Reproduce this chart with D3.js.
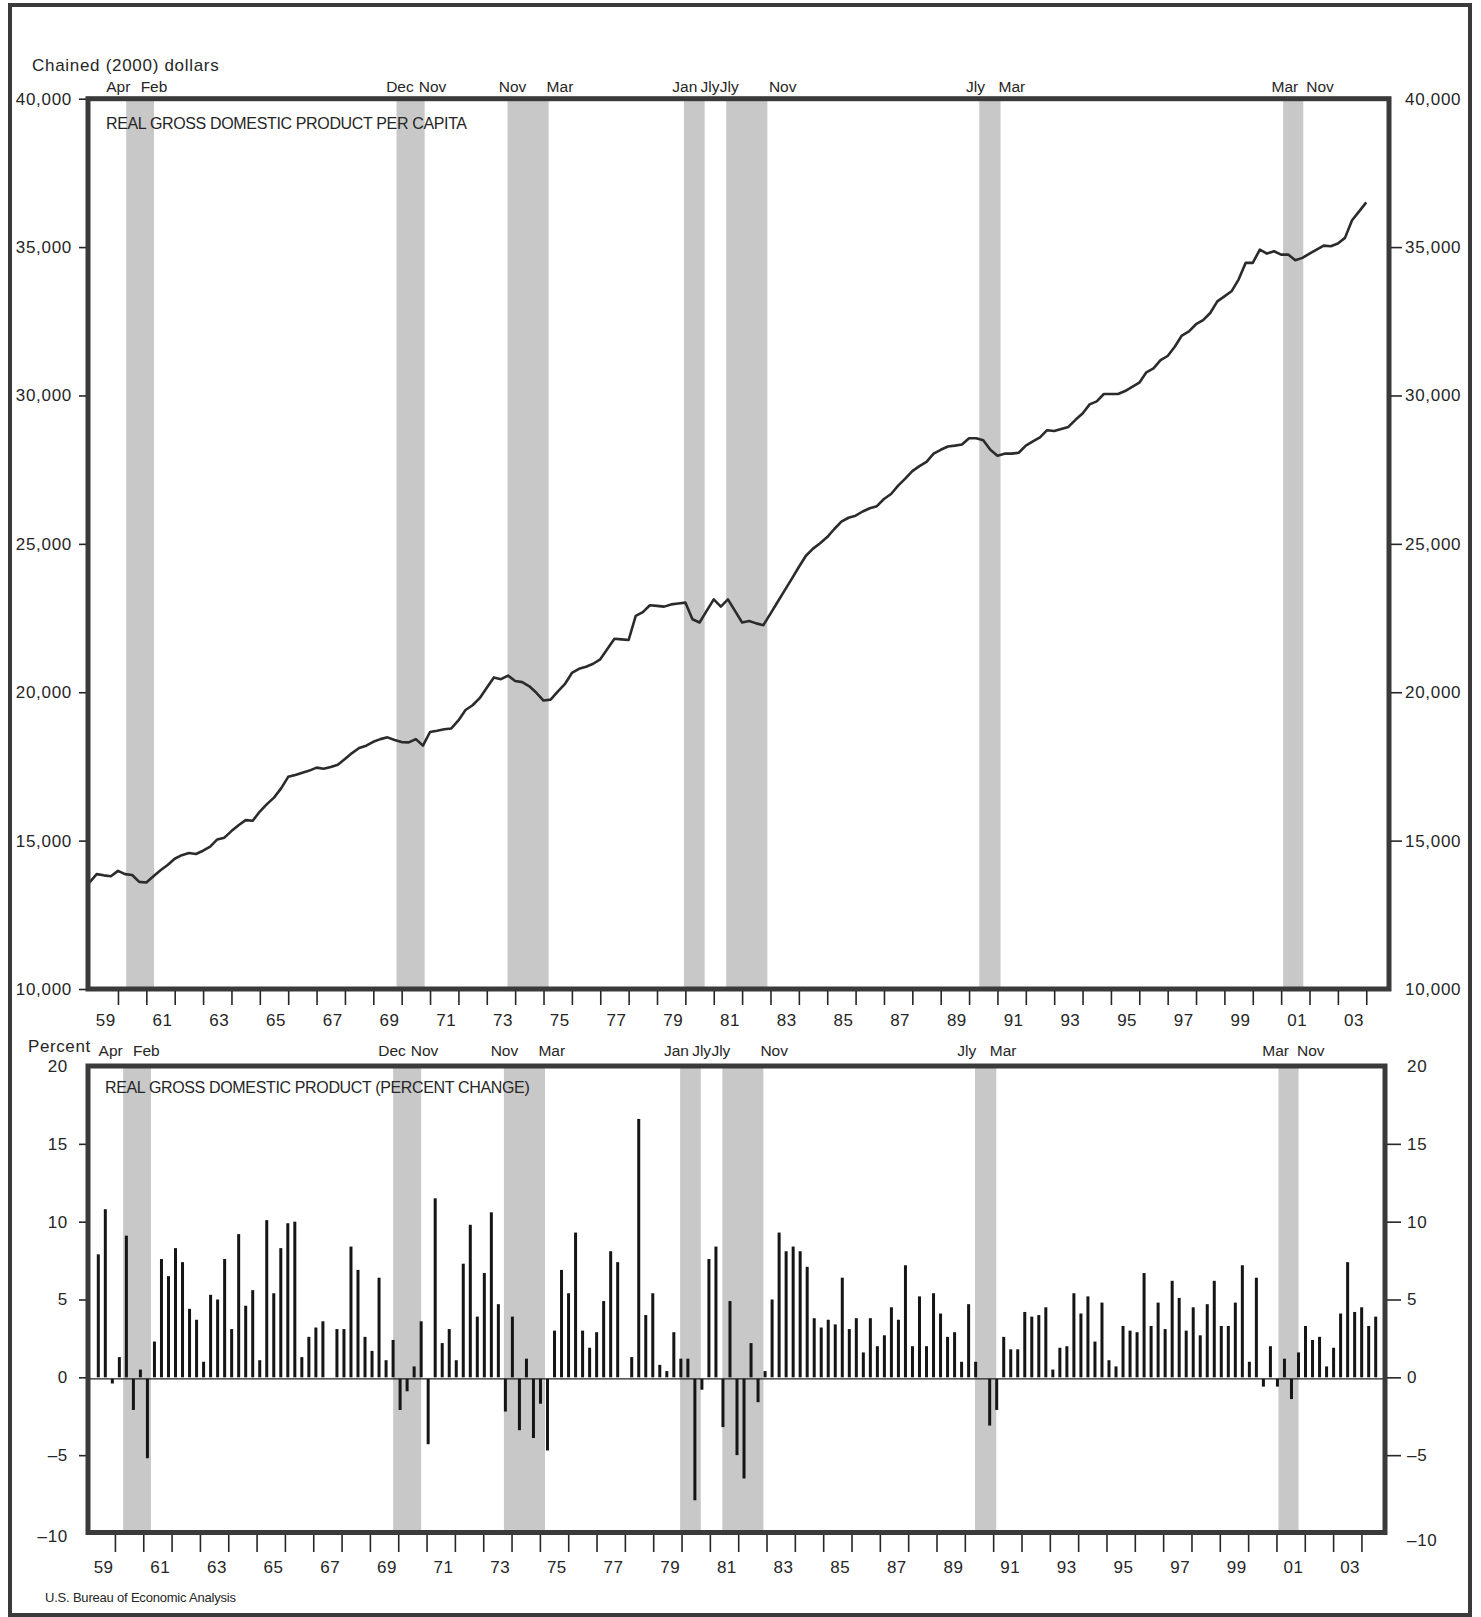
<!DOCTYPE html>
<html><head><meta charset="utf-8">
<script src="https://cdn.jsdelivr.net/npm/d3@7"></script>
<style>
html,body{margin:0;padding:0;background:#fff;}
svg{display:block;}
</style></head><body><svg id="chart" width="1481" height="1617"></svg>
<script>
// ---------- DATA ----------
const firstYear = 1959;
// Real GDP per capita, chained (2000) dollars, quarterly 1959Q1 .. 2004Q1
const perCapita = [
 13590,13870,13830,13800, 13980,13870,13840,13610, 13590,13800,14000,14180,
 14390,14510,14580,14550, 14660,14800,15040,15100, 15320,15520,15690,15670,
 15980,16230,16450,16760, 17150,17210,17290,17360, 17460,17420,17480,17560,
 17750,17950,18120,18200, 18330,18420,18480,18390, 18320,18310,18420,18200,
 18660,18700,18750,18780, 19050,19400,19560,19800, 20150,20500,20440,20560,
 20380,20340,20200,19980, 19720,19750,20020,20270, 20650,20790,20860,20960,
 21110,21460,21800,21780, 21760,22570,22700,22930, 22910,22885,22960,22990,
 23020,22460,22350,22740, 23130,22885,23130,22740, 22350,22400,22320,22260,
 22650,23040,23430,23820, 24220,24600,24840,25020, 25230,25500,25750,25880,
 25950,26090,26200,26270, 26510,26680,26960,27200, 27450,27620,27760,28040,
 28170,28280,28310,28350, 28560,28560,28490,28170, 27970,28040,28040,28070,
 28310,28450,28590,28830, 28800,28870,28940,29180, 29390,29700,29800,30050,
 30050,30050,30150,30290, 30430,30780,30910,31190, 31330,31640,32020,32160,
 32400,32540,32780,33170, 33340,33510,33906,34468, 34468,34916,34781,34859,
 34747,34747,34556,34636, 34781,34916,35050,35027, 35118,35310,35902,36205,
 36508
];
// Real GDP, percent change (annual rate), quarterly 1959Q1 .. 2004Q3
const pctChange = [
 7.9,10.8,-0.3,1.3, 9.1,-2.0,0.5,-5.1, 2.3,7.6,6.5,8.3, 7.4,4.4,3.7,1.0,
 5.3,5.0,7.6,3.1, 9.2,4.6,5.6,1.1, 10.1,5.4,8.3,9.9, 10.0,1.3,2.6,3.2,
 3.6,0.0,3.1,3.1, 8.4,6.9,2.6,1.7, 6.4,1.1,2.4,-2.0, -0.8,0.7,3.6,-4.2,
 11.5,2.2,3.1,1.1, 7.3,9.8,3.9,6.7, 10.6,4.7,-2.1,3.9, -3.3,1.2,-3.8,-1.6,
 -4.6,3.0,6.9,5.4, 9.3,3.0,1.9,2.9, 4.9,8.1,7.4,0.0, 1.3,16.6,4.0,5.4,
 0.8,0.4,2.9,1.2, 1.2,-7.8,-0.7,7.6, 8.4,-3.1,4.9,-4.9, -6.4,2.2,-1.5,0.4,
 5.0,9.3,8.1,8.4, 8.1,7.1,3.8,3.2, 3.7,3.4,6.4,3.1, 3.8,1.6,3.8,2.0,
 2.7,4.5,3.7,7.2, 2.0,5.2,2.0,5.4, 4.1,2.6,2.9,1.0, 4.7,1.0,0.0,-3.0,
 -2.0,2.6,1.8,1.8, 4.2,3.9,4.0,4.5, 0.5,1.9,2.0,5.4, 4.1,5.2,2.3,4.8,
 1.1,0.7,3.3,3.0, 2.9,6.7,3.3,4.8, 3.1,6.2,5.1,3.0, 4.5,2.7,4.7,6.2,
 3.3,3.3,4.8,7.2, 1.0,6.4,-0.5,2.0, -0.5,1.2,-1.3,1.6, 3.3,2.4,2.6,0.7,
 1.9,4.1,7.4,4.2, 4.5,3.3,3.9
];
const topTicks = [10000,15000,20000,25000,30000,35000,40000];
const bottomTicks = [-10,-5,0,5,10,15,20];
const yearLabels = ["59","61","63","65","67","69","71","73","75","77","79","81","83","85","87","89","91","93","95","97","99","01","03"];
const yearLabelYears = [1959,1961,1963,1965,1967,1969,1971,1973,1975,1977,1979,1981,1983,1985,1987,1989,1991,1993,1995,1997,1999,2001,2003];
// Recession shading (decimal years, as drawn)
const recessionStart = [1960.29,1969.82,1973.73,1979.95,1981.44,1990.36,2001.07];
const recessionEnd   = [1961.27,1970.81,1975.18,1980.68,1982.89,1991.11,2001.78];
const recessionLabels = ["Apr","Feb","Dec","Nov","Nov","Mar","Jan","Jly","Jly","Nov","Jly","Mar","Mar","Nov"];
const recessionLabelYears = [1960.01,1961.27,1969.94,1971.09,1973.91,1975.58,1979.98,1980.87,1981.55,1983.43,1990.23,1991.51,2001.13,2002.37];

// ---------- DRAW ----------
const FONT = '"Liberation Sans", Arial, Helvetica, sans-serif';
const INK = "#262626";
const FRAME = "#3a3a3a";
const BAND = "#c8c8c8";
const svg = d3.select("#chart");
svg.append("rect").attr("width",1481).attr("height",1617).attr("fill","#fff");

// outer border
svg.append("rect").attr("x",10).attr("y",5).attr("width",1460).attr("height",1610)
  .attr("fill","none").attr("stroke",FRAME).attr("stroke-width",4);

function txt(x,y,s,size,anchor,extra){
  const t = svg.append("text").attr("x",x).attr("y",y).attr("dy","0.35em")
    .attr("font-family",FONT).attr("font-size",size).attr("fill",INK)
    .attr("text-anchor",anchor||"start").text(s);
  if(extra) extra(t);
  return t;
}
function styleAxis(g,size,spacing){
  g.select(".domain").remove();
  g.selectAll(".tick line").attr("stroke",INK).attr("stroke-width",1.6);
  g.selectAll(".tick text").attr("font-family",FONT).attr("font-size",size)
    .attr("fill",INK).attr("letter-spacing",spacing||0);
  g.attr("font-family",FONT);
}

// ===== TOP PANEL =====
const T = {l:88, r:1389, t:98.7, b:989};
const xTop = d3.scaleLinear().domain([1959,2004]).range([89.6, 89.6+45*28.37]);
const yTop = d3.scaleLinear().domain([10000,40000]).range([T.b, T.t]);

svg.append("g").selectAll("rect").data(recessionStart).join("rect")
  .attr("x",(d)=>xTop(d)).attr("width",(d,i)=>xTop(recessionEnd[i])-xTop(d))
  .attr("y",T.t).attr("height",T.b-T.t).attr("fill",BAND);

const line = d3.line().x((d,i)=>xTop(firstYear + i/4)).y(d=>yTop(d));
svg.append("path").datum(perCapita).attr("d",line).attr("fill","none")
  .attr("stroke","#2b2b2b").attr("stroke-width",2.6).attr("stroke-linejoin","round");

svg.append("rect").attr("x",T.l).attr("y",T.t).attr("width",T.r-T.l).attr("height",T.b-T.t)
  .attr("fill","none").attr("stroke",FRAME).attr("stroke-width",5);

// axes
const gTL = svg.append("g").attr("transform","translate(86,0)")
  .call(d3.axisLeft(yTop).tickValues(topTicks).tickSize(7).tickPadding(7).tickFormat(d3.format(",")));
styleAxis(gTL,17,0.7);
const gTR = svg.append("g").attr("transform","translate(1391,0)")
  .call(d3.axisRight(yTop).tickValues(topTicks).tickSize(11).tickPadding(3).tickFormat(d3.format(",")));
styleAxis(gTR,17,0.7);
gTR.selectAll(".tick").filter(d=>d===40000||d===10000).select("line").remove();
const gTB = svg.append("g").attr("transform","translate(0,991)")
  .call(d3.axisBottom(xTop).tickValues(d3.range(1960,2005)).tickSize(14).tickFormat(""));
styleAxis(gTB,17);
yearLabels.forEach((s,i)=>txt(xTop(yearLabelYears[i]+0.57),1020,s,17,"middle",t=>t.attr("letter-spacing",0.5)));

// titles
txt(32,65,"Chained (2000) dollars",17,"start",t=>t.attr("letter-spacing",0.7));
txt(106,123,"REAL GROSS DOMESTIC PRODUCT PER CAPITA",16,"start",t=>t.attr("letter-spacing",-0.35));
recessionLabels.forEach((s,i)=>txt(xTop(recessionLabelYears[i]),87,s,15.5,"middle"));

// ===== BOTTOM PANEL =====
const B = {l:88, r:1385, t:1066, b:1532.5};
const xBot = d3.scaleLinear().domain([1959,2004]).range([86.6, 86.6+45*28.33]);
const xBar = d3.scaleLinear().domain([0,182]).range([98.3,1375.7]);
const yBot = d3.scaleLinear().domain([-10,20]).range([1533,1066]);

svg.append("g").selectAll("rect").data(recessionStart).join("rect")
  .attr("x",(d)=>xBot(d)).attr("width",(d,i)=>xBot(recessionEnd[i])-xBot(d))
  .attr("y",B.t).attr("height",B.b-B.t).attr("fill",BAND);

svg.append("line").attr("x1",B.l).attr("x2",B.r).attr("y1",yBot(0)+1.5).attr("y2",yBot(0)+1.5)
  .attr("stroke","#222").attr("stroke-width",1.3);

svg.append("g").selectAll("rect").data(pctChange).join("rect")
  .attr("x",(d,i)=>xBar(i)-1.5).attr("width",3)
  .attr("y",d=>d>=0?yBot(d):yBot(0)+1.5).attr("height",d=>Math.abs(yBot(d)-yBot(0)))
  .attr("fill","#151515");

svg.append("rect").attr("x",B.l).attr("y",B.t).attr("width",B.r-B.l).attr("height",B.b-B.t)
  .attr("fill","none").attr("stroke",FRAME).attr("stroke-width",5);

const fmtPct = d=> d<0 ? "\u2013"+Math.abs(d) : String(d);
const gBL = svg.append("g").attr("transform","translate(86,0)")
  .call(d3.axisLeft(yBot).tickValues(bottomTicks).tickSize(7).tickPadding(11).tickFormat(fmtPct));
styleAxis(gBL,17,0.7);
gBL.selectAll(".tick").filter(d=>d===20||d===-10).select("line").remove();
gBL.selectAll(".tick").filter(d=>d===-10).select("text").attr("y",3);
const gBR = svg.append("g").attr("transform","translate(1387,0)")
  .call(d3.axisRight(yBot).tickValues(bottomTicks).tickSize(14).tickPadding(6).tickFormat(fmtPct));
styleAxis(gBR,17,0.7);
gBR.selectAll(".tick").filter(d=>d===20||d===-10).select("line").remove();
gBR.selectAll(".tick").filter(d=>d===-10).select("text").attr("y",7);
const gBB = svg.append("g").attr("transform","translate(0,1535)")
  .call(d3.axisBottom(xBot).tickValues(d3.range(1960,2005)).tickSize(17).tickFormat(""));
styleAxis(gBB,17);
yearLabels.forEach((s,i)=>txt(xBot(yearLabelYears[i]+0.6),1567,s,17,"middle",t=>t.attr("letter-spacing",0.5)));

txt(28,1046,"Percent",17,"start",t=>t.attr("letter-spacing",0.6));
txt(105,1087,"REAL GROSS DOMESTIC PRODUCT (PERCENT CHANGE)",16,"start",t=>t.attr("letter-spacing",-0.35));
recessionLabels.forEach((s,i)=>txt(xBot(recessionLabelYears[i]-0.16),1051,s,15.5,"middle"));

txt(45,1597,"U.S. Bureau of Economic Analysis",13,"start",t=>t.attr("letter-spacing",-0.2));
</script></body></html>
